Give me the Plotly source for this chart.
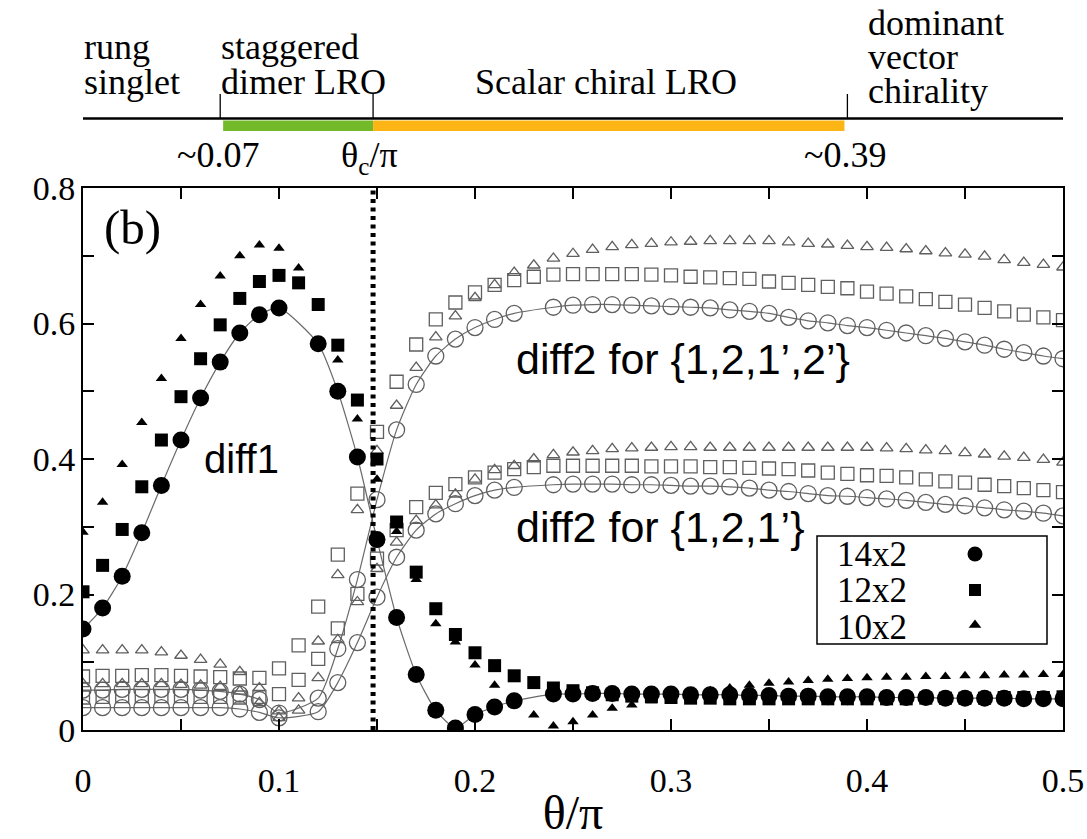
import plotly.graph_objects as go

# ---------------- data ----------------
theta = [0.00, 0.01, 0.02, 0.03, 0.04, 0.05, 0.06, 0.07, 0.08, 0.09,
         0.10, 0.11, 0.12, 0.13, 0.14, 0.15, 0.16, 0.17, 0.18, 0.19,
         0.20, 0.21, 0.22, 0.23, 0.24, 0.25, 0.26, 0.27, 0.28, 0.29,
         0.30, 0.31, 0.32, 0.33, 0.34, 0.35, 0.36, 0.37, 0.38, 0.39,
         0.40, 0.41, 0.42, 0.43, 0.44, 0.45, 0.46, 0.47, 0.48, 0.49, 0.50]

# diff1 (filled symbols)
diff1_14x2 = [0.149, 0.180, 0.227, 0.291, 0.361, 0.428, 0.490, 0.543, 0.586, 0.613,
              0.623, None, 0.570, 0.500, 0.403, 0.281, 0.166, 0.082, 0.029, 0.003,
              0.023, 0.034, 0.043, None, 0.053, 0.053, 0.054, 0.054, 0.053, 0.053,
              0.053, 0.052, 0.052, 0.052, 0.051, 0.051, 0.050, 0.050, 0.049, 0.049,
              0.049, 0.048, 0.048, 0.048, 0.047, 0.047, 0.047, 0.047, 0.046, 0.046, 0.046]
diff1_12x2 = [0.204, 0.243, 0.296, 0.359, 0.428, 0.492, 0.548, 0.598, 0.637, 0.662,
              0.671, 0.660, 0.628, 0.568, 0.487, 0.400, 0.307, 0.233, 0.179, 0.141,
              0.114, 0.095, 0.080, 0.070, 0.062, 0.058, 0.055, 0.052, 0.050, 0.049,
              0.048, 0.047, 0.047, 0.046, 0.046, 0.046, 0.046, 0.046, 0.046, 0.046,
              0.046, 0.046, 0.046, 0.047, 0.047, 0.047, 0.047, 0.048, 0.048, 0.048, 0.049]
diff1_10x2 = [0.292, 0.336, 0.392, 0.454, 0.519, 0.578, 0.628, 0.670, 0.700, 0.716,
              0.711, 0.682, None, 0.546, 0.459, 0.370, 0.293, 0.222, 0.157, 0.130,
              0.096, 0.066, None, 0.022, 0.006, 0.012, 0.022, 0.032, 0.037, 0.043,
              0.048, 0.053, 0.058, 0.062, 0.066, 0.069, 0.071, 0.073, 0.075, 0.076,
              0.077, 0.078, 0.078, 0.079, 0.079, 0.080, 0.080, 0.081, 0.081, 0.082, 0.082]

# diff2 for {1,2,1',2'} (open symbols, upper group)
d2_four_14x2 = [0.059, 0.059, 0.060, 0.060, 0.060, 0.060, 0.059, 0.057, 0.053, 0.045,
                0.025, None, 0.047, 0.120, 0.222, 0.340, 0.443, 0.510, 0.552, 0.577,
                0.594, 0.606, 0.615, None, 0.624, 0.627, 0.628, 0.628, 0.627, 0.626,
                0.625, 0.624, 0.623, 0.620, 0.618, 0.615, 0.609, 0.604, 0.601, 0.597,
                0.594, 0.590, 0.586, 0.582, 0.578, 0.573, 0.568, 0.562, 0.557, 0.552, 0.548]
d2_four_12x2 = [0.079, 0.080, 0.080, 0.081, 0.081, 0.080, 0.079, 0.078, 0.076, 0.077,
                0.091, 0.125, 0.182, 0.259, 0.349, 0.440, 0.514, 0.569, 0.606, 0.631,
                0.646, 0.657, 0.664, 0.669, 0.672, 0.673, 0.673, 0.673, 0.673, 0.672,
                0.671, 0.669, 0.668, 0.667, 0.666, 0.662, 0.660, 0.657, 0.654, 0.652,
                0.647, 0.644, 0.640, 0.636, 0.632, 0.628, 0.623, 0.618, 0.613, 0.609, 0.605]
d2_four_10x2 = [0.118, 0.118, 0.118, 0.118, 0.115, 0.110, 0.104, 0.097, 0.086, 0.062,
                0.028, 0.047, 0.131, 0.229, 0.325, 0.412, 0.479, 0.535, 0.580, 0.611,
                0.638, 0.657, 0.675, 0.686, 0.696, 0.703, 0.709, 0.713, 0.716, 0.718,
                0.720, 0.721, 0.722, 0.722, 0.722, 0.722, 0.720, 0.718, 0.717, 0.715,
                0.713, 0.712, 0.710, 0.707, 0.704, 0.702, 0.699, 0.694, 0.690, 0.687, 0.683]

# diff2 for {1,2,1'} (open symbols, lower group)
d2_three_14x2 = [0.033, 0.033, 0.033, 0.033, 0.033, 0.033, 0.033, 0.033, 0.031, 0.026,
                 0.018, None, 0.027, 0.070, 0.129, 0.196, 0.255, 0.295, 0.319, 0.334,
                 0.346, 0.354, 0.358, None, 0.362, 0.363, 0.363, 0.363, 0.362, 0.362,
                 0.361, 0.360, 0.360, 0.359, 0.357, 0.354, 0.352, 0.349, 0.346, 0.345,
                 0.343, 0.341, 0.339, 0.336, 0.333, 0.331, 0.328, 0.325, 0.323, 0.320, 0.316]
d2_three_12x2 = [0.048, 0.049, 0.050, 0.050, 0.050, 0.050, 0.049, 0.049, 0.048, 0.049,
                 0.053, 0.074, 0.105, 0.150, 0.201, 0.253, 0.295, 0.329, 0.350, 0.363,
                 0.373, 0.380, 0.385, 0.388, 0.390, 0.390, 0.390, 0.390, 0.390, 0.389,
                 0.389, 0.389, 0.388, 0.388, 0.387, 0.386, 0.385, 0.383, 0.380, 0.378,
                 0.376, 0.375, 0.373, 0.370, 0.367, 0.365, 0.362, 0.360, 0.357, 0.354, 0.351]
d2_three_10x2 = [0.068, 0.068, 0.068, 0.068, 0.068, 0.067, 0.066, 0.064, 0.057, 0.040,
                 0.018, 0.029, 0.077, 0.133, 0.189, 0.238, 0.277, 0.309, 0.332, 0.348,
                 0.370, 0.384, 0.390, 0.400, 0.406, 0.410, 0.412, 0.415, 0.416, 0.417,
                 0.418, 0.418, 0.417, 0.417, 0.417, 0.417, 0.417, 0.417, 0.417, 0.417,
                 0.417, 0.416, 0.415, 0.413, 0.412, 0.409, 0.407, 0.404, 0.402, 0.399, 0.395]

legend_names = ["14x2", "12x2", "10x2"]
x_ticks = [0, 0.1, 0.2, 0.3, 0.4, 0.5]
y_ticks = [0, 0.2, 0.4, 0.6, 0.8]

theta_c = 0.148          # critical point (dotted line)
phase_lo = 0.07          # ~0.07 boundary
phase_hi = 0.39          # ~0.39 boundary

# ---------------- styles ----------------
SERIF = "Liberation Serif"
SANS = "Liberation Sans"
GRAY = "#5f5f5f"
LINE_GRAY = "#6a6a6a"

# plot-area geometry (pixels) used for layout placement of decorations
L, R, T, B = 83, 1063, 188, 730
W_FIG, H_FIG = 1087, 839


def xp(px):
    return (px - L) / (R - L)


def yp(py):
    return (B - py) / (B - T)


def th(t):  # theta value -> paper x
    return t / 0.5


fig = go.Figure()

# lines through the 14x2 data
for ys in (d2_four_14x2, d2_three_14x2, diff1_14x2):
    fig.add_trace(go.Scatter(x=theta, y=ys, mode="lines", connectgaps=True,
                             line=dict(color=LINE_GRAY, width=1.2, shape="spline", smoothing=0.6),
                             hoverinfo="skip", showlegend=False))

open_style = dict(color=GRAY, line=dict(color=GRAY, width=1.3))
for ys, grp in ((d2_four_14x2, "{1,2,1',2'}"), (d2_three_14x2, "{1,2,1'}")):
    fig.add_trace(go.Scatter(x=theta, y=ys, mode="markers", name="14x2 diff2 " + grp,
                             marker=dict(symbol="circle-open", size=16, **open_style), showlegend=False))
for ys, grp in ((d2_four_12x2, "{1,2,1',2'}"), (d2_three_12x2, "{1,2,1'}")):
    fig.add_trace(go.Scatter(x=theta, y=ys, mode="markers", name="12x2 diff2 " + grp,
                             marker=dict(symbol="square-open", size=13, **open_style), showlegend=False))
for ys, grp in ((d2_four_10x2, "{1,2,1',2'}"), (d2_three_10x2, "{1,2,1'}")):
    fig.add_trace(go.Scatter(x=theta, y=ys, mode="markers", name="10x2 diff2 " + grp,
                             marker=dict(symbol="triangle-up-open", size=11, **open_style), showlegend=False))

fig.add_trace(go.Scatter(x=theta, y=diff1_14x2, mode="markers", name="14x2 diff1",
                         marker=dict(symbol="circle", size=17, color="black"), showlegend=False))
fig.add_trace(go.Scatter(x=theta, y=diff1_12x2, mode="markers", name="12x2 diff1",
                         marker=dict(symbol="square", size=13, color="black"), showlegend=False))
fig.add_trace(go.Scatter(x=theta, y=diff1_10x2, mode="markers", name="10x2 diff1",
                         marker=dict(symbol="triangle-up", size=10, color="black"), showlegend=False))

# legend keys (drawn on an overlay axis in pixel units)
key_y = [554, 590, 625]
key_sym = ["circle", "square", "triangle-up"]
key_size = [15, 12, 11]
for nm, ky, sy, sz in zip(legend_names, key_y, key_sym, key_size):
    fig.add_trace(go.Scatter(x=[975], y=[ky], xaxis="x2", yaxis="y2", mode="markers", name=nm,
                             marker=dict(symbol=sy, size=sz, color="black"), showlegend=False,
                             hoverinfo="name"))

axis_common = dict(showline=True, linewidth=2, linecolor="black", mirror="ticks",
                   ticks="inside", ticklen=11, tickwidth=1.5, tickcolor="black",
                   showgrid=False, zeroline=False, automargin=False,
                   tickfont=dict(family=SERIF, size=34, color="black"))

fig.update_layout(
    width=W_FIG, height=H_FIG, autosize=False,
    margin=dict(l=L, r=W_FIG - R, t=T, b=H_FIG - B, pad=0),
    plot_bgcolor="white", paper_bgcolor="white",
    showlegend=False,
    xaxis=dict(range=[0, 0.5], tickvals=x_ticks, ticktext=["0", "0.1", "0.2", "0.3", "0.4", "0.5"],
               minor=dict(dtick=0.05, tick0=0, ticks="inside", ticklen=11, tickwidth=1.5, tickcolor="black"),
               ticklabelstandoff=19,
               title=dict(text="θ/π", font=dict(family=SERIF, size=48, color="black"), standoff=10),
               **axis_common),
    yaxis=dict(range=[0, 0.8], tickvals=y_ticks, ticktext=["0", "0.2", "0.4", "0.6", "0.8"],
               minor=dict(dtick=0.1, tick0=0, ticks="inside", ticklen=11, tickwidth=1.5, tickcolor="black"),
               ticklabelstandoff=-1,
               **axis_common),
    xaxis2=dict(overlaying="x", range=[L, R], visible=False, anchor="y2", automargin=False),
    yaxis2=dict(overlaying="y", range=[B, T], visible=False, anchor="x2", automargin=False),
)

shapes = []
# critical dotted line
shapes.append(dict(type="line", xref="x", yref="paper", x0=theta_c, x1=theta_c, y0=0, y1=1,
                   line=dict(color="black", width=5, dash="4px,4.5px")))
# phase diagram on top
shapes.append(dict(type="line", xref="paper", yref="paper", x0=0, x1=1, y0=yp(118.5), y1=yp(118.5),
                   line=dict(color="black", width=2.5)))
shapes.append(dict(type="rect", xref="paper", yref="paper", x0=th(phase_lo + 0.0015), x1=th(theta_c),
                   y0=yp(131), y1=yp(120.5), line=dict(width=0), fillcolor="#74B929"))
shapes.append(dict(type="rect", xref="paper", yref="paper", x0=th(theta_c), x1=th(phase_hi - 0.0015),
                   y0=yp(131), y1=yp(120.5), line=dict(width=0), fillcolor="#FDB515"))
for t in (phase_lo, theta_c, phase_hi):
    shapes.append(dict(type="line", xref="paper", yref="paper", x0=th(t), x1=th(t),
                       y0=yp(118), y1=yp(94), line=dict(color="black", width=1.3)))
# legend box
shapes.append(dict(type="rect", xref="paper", yref="paper", x0=xp(817), x1=xp(1047),
                   y0=yp(644), y1=yp(536), line=dict(color="black", width=1.5),
                   fillcolor="white", layer="below"))
fig.update_layout(shapes=shapes)


def ann(text, px_x, baseline, size, family=SERIF, xanchor="left", asc=0.891):
    return dict(text=text, x=xp(px_x), y=yp(baseline - asc * size), xref="paper", yref="paper",
                xanchor=xanchor, yanchor="top", showarrow=False, borderpad=0,
                font=dict(family=family, size=size, color="black"))


TOP = 36
annots = [
    ann("rung", 83, 58, TOP), ann("singlet", 83, 93, TOP),
    ann("staggered", 220, 58, TOP), ann("dimer LRO", 220, 93, TOP),
    ann("Scalar chiral LRO", 474, 93, TOP),
    ann("dominant", 867, 34, TOP), ann("vector", 867, 68, TOP), ann("chirality", 867, 102, TOP),
    ann("~0.07", 218, 166, TOP, xanchor="center"),
    ann("θ<sub>c</sub>/π", 369, 166, TOP, xanchor="center"),
    ann("~0.39", 845, 166, TOP, xanchor="center"),
    ann("(b)", 103, 243, 49),
    ann("diff1", 203, 472, 40, family=SANS, asc=0.905),
    ann("diff2 for {1,2,1’,2’}", 515, 373, 43, family=SANS, asc=0.905),
    ann("diff2 for {1,2,1’}", 515, 541, 43, family=SANS, asc=0.905),
]
for nm, bl in zip(legend_names, [565, 601, 638]):
    annots.append(ann(nm, 836, bl, 35))
fig.update_layout(annotations=annots)

fig.write_html("out.html", config={"displayModeBar": False},
               post_script="document.body.style.margin='0';")
